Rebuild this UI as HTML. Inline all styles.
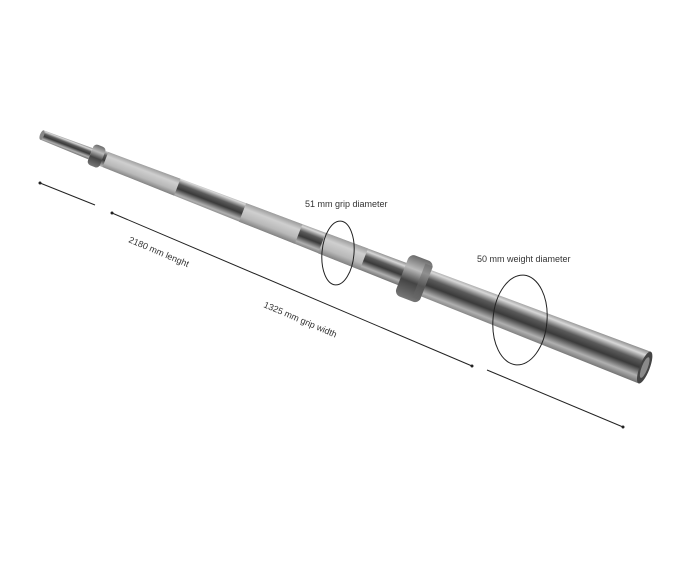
<!DOCTYPE html>
<html><head><meta charset="utf-8"><style>
html,body{margin:0;padding:0;background:#fff;}
svg{display:block;font-family:"Liberation Sans",sans-serif;}
</style></head><body>
<svg width="687" height="579" viewBox="0 0 687 579">
<defs>
<linearGradient id="steel" x1="0" y1="0" x2="0" y2="1">
<stop offset="0" stop-color="#8a8a8a"/>
<stop offset="0.15" stop-color="#d8d8d8"/>
<stop offset="0.35" stop-color="#5a5a5a"/>
<stop offset="0.55" stop-color="#3a3a3a"/>
<stop offset="0.8" stop-color="#b0b0b0"/>
<stop offset="1" stop-color="#707070"/>
</linearGradient>
<linearGradient id="knurl" x1="0" y1="0" x2="0" y2="1">
<stop offset="0" stop-color="#9a9a9a"/>
<stop offset="0.3" stop-color="#cfcfcf"/>
<stop offset="0.7" stop-color="#b8b8b8"/>
<stop offset="1" stop-color="#808080"/>
</linearGradient>
<linearGradient id="collar" x1="0" y1="0" x2="0" y2="1">
<stop offset="0" stop-color="#6a6a6a"/>
<stop offset="0.3" stop-color="#bbb"/>
<stop offset="0.6" stop-color="#444"/>
<stop offset="1" stop-color="#777"/>
</linearGradient>
</defs>
<g transform="translate(42,135) rotate(21.1)">
<polygon points="0,-5 52,-6 52,6 0,5" fill="url(#steel)"/>
<ellipse cx="0" cy="0" rx="2" ry="5" fill="#888"/>
<polygon points="60,-8 396,-12 396,12 60,8" fill="url(#steel)"/>
<polygon points="68,-8 145,-9 145,9 68,8" fill="url(#knurl)"/>
<polygon points="215,-10 275,-10.5 275,10.5 215,10" fill="url(#knurl)"/>
<polygon points="300,-11 345,-11.5 345,11.5 300,11" fill="url(#knurl)"/>
<rect x="52" y="-11" width="13" height="22" rx="4" fill="url(#collar)"/>
<polygon points="405,-14 646,-17 646,17 405,14" fill="url(#steel)"/>
<ellipse cx="646" cy="0" rx="5" ry="17" fill="#444"/>
<ellipse cx="646" cy="0" rx="3" ry="11" fill="#8a8a8a"/>
<rect x="386" y="-22" width="26" height="44" rx="6" fill="url(#collar)"/>
<rect x="404" y="-18" width="8" height="36" fill="#666" opacity="0.5"/>
</g>
<g stroke="#222" stroke-width="1" fill="none">
<line x1="40" y1="183" x2="95" y2="205"/>
<line x1="112" y1="213" x2="472" y2="366"/>
<line x1="487" y1="370" x2="623" y2="427"/>
<ellipse cx="338" cy="253" rx="16" ry="32" transform="rotate(5 338 253)"/>
<ellipse cx="520" cy="320" rx="27" ry="45" transform="rotate(5 520 320)"/>
</g>
<g fill="#222">
<circle cx="40" cy="183" r="1.5"/><circle cx="112" cy="213" r="1.5"/>
<circle cx="472" cy="366" r="1.5"/><circle cx="623" cy="427" r="1.5"/>
</g>
<g fill="#333" font-size="9">
<text x="305" y="207">51 mm grip diameter</text>
<text x="477" y="262">50 mm weight diameter</text>
<text transform="translate(128,242) rotate(23)">2180 mm lenght</text>
<text transform="translate(263,307) rotate(23)">1325 mm grip width</text>
</g>
</svg>
</body></html>
